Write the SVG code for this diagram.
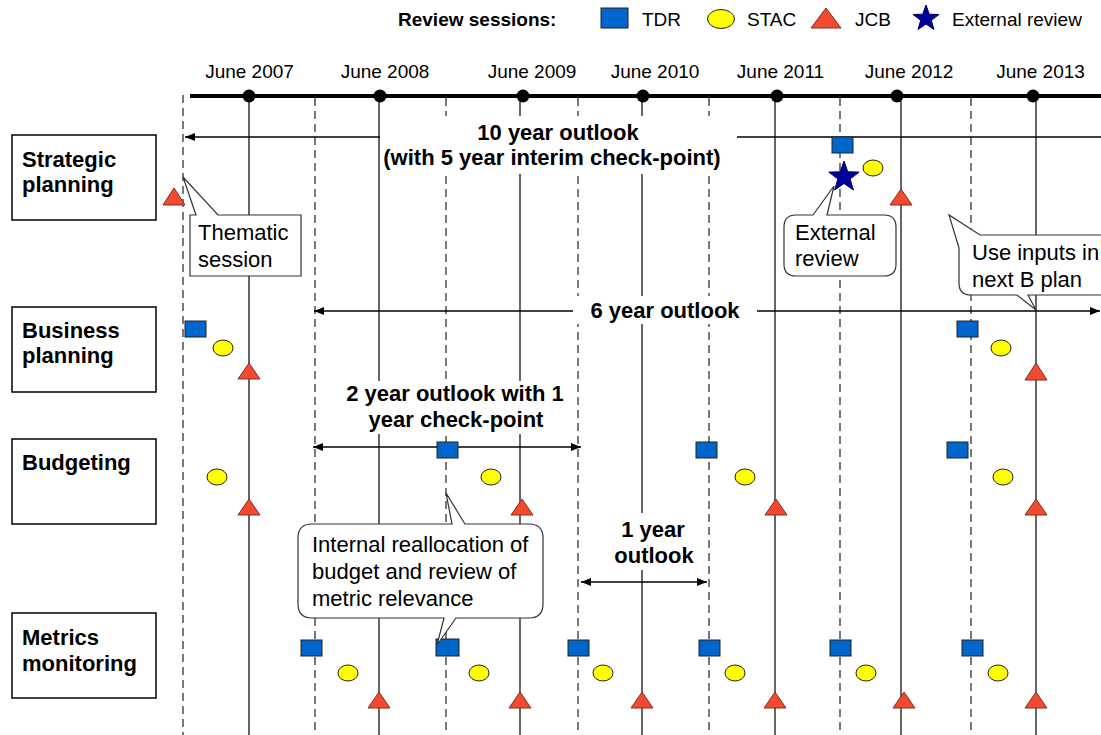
<svg xmlns="http://www.w3.org/2000/svg" width="1101" height="735" viewBox="0 0 1101 735">
  <style>
    .lbl { font-family: "Liberation Sans", Arial, sans-serif; font-size: 22px; font-weight: bold; fill: #000; }
    .mon { font-family: "Liberation Sans", Arial, sans-serif; font-size: 19px; fill: #000; text-anchor: middle; }
    .leg { font-family: "Liberation Sans", Arial, sans-serif; font-size: 19px; fill: #000; }
    .note { font-family: "Liberation Sans", Arial, sans-serif; font-size: 22px; fill: #000; }
    .out { font-family: "Liberation Sans", Arial, sans-serif; font-size: 22px; font-weight: bold; fill: #000; text-anchor: middle; }
    .box { fill: #fff; stroke: #000; stroke-width: 1.5; }
    .call { fill: #fff; stroke: #333; stroke-width: 1.2; }
    .solid { stroke: #000; stroke-width: 1.2; }
    .dash { stroke: #222; stroke-width: 1.2; stroke-dasharray: 8 5; }
    .span { stroke: #000; stroke-width: 1.5; fill: none; }
    .tdr { fill: #0066CC; stroke: #222; stroke-width: 1; }
    .stac { fill: #FFFF00; stroke: #222; stroke-width: 1; }
    .jcb { fill: #F04B30; stroke: #8a2a1a; stroke-width: 1; }
    .ext { fill: #000099; stroke: #000066; stroke-width: 1; }
    .mask { fill: #fff; stroke: none; }
  </style>
  <defs>
    <marker id="ah" viewBox="0 0 10 8" refX="10" refY="4" markerWidth="10" markerHeight="8" markerUnits="userSpaceOnUse" orient="auto-start-reverse">
      <path d="M0,0 L10,4 L0,8 Z" fill="#000"/>
    </marker>
  </defs>

  <rect x="0" y="0" width="1101" height="735" fill="#fff"/>

  <!-- legend -->
  <g id="legend">
    <text class="leg" x="398" y="26" font-weight="bold">Review sessions:</text>
    <rect class="tdr" x="601" y="8" width="27" height="20"/>
    <text class="leg" x="642" y="26">TDR</text>
    <ellipse class="stac" cx="721" cy="19" rx="13.5" ry="9.5"/>
    <text class="leg" x="747" y="26">STAC</text>
    <polygon class="jcb" points="826,8 841,28 811,28"/>
    <text class="leg" x="855" y="26">JCB</text>
    <polygon class="ext" points="926,5 929.3,14.2 939,14.5 931.3,20.3 934,29.5 926,24 918,29.5 920.7,20.3 913,14.5 922.7,14.2"/>
    <text class="leg" x="952" y="26">External review</text>
  </g>

  <!-- timeline axis with yearly milestones -->
  <g id="timeline">
    <line x1="190" y1="96" x2="1101" y2="96" stroke="#000" stroke-width="4"/>
    <g fill="#000">
      <circle cx="249" cy="96" r="6.5"/>
      <circle cx="380" cy="96" r="6.5"/>
      <circle cx="523" cy="96" r="6.5"/>
      <circle cx="643" cy="96" r="6.5"/>
      <circle cx="777" cy="96" r="6.5"/>
      <circle cx="897" cy="96" r="6.5"/>
      <circle cx="1033" cy="96" r="6.5"/>
    </g>
    <text class="mon" x="249.5" y="78">June 2007</text>
    <text class="mon" x="385" y="78">June 2008</text>
    <text class="mon" x="532" y="78">June 2009</text>
    <text class="mon" x="655" y="78">June 2010</text>
    <text class="mon" x="780.5" y="78">June 2011</text>
    <text class="mon" x="909" y="78">June 2012</text>
    <text class="mon" x="1040.5" y="78">June 2013</text>
  </g>

  <!-- yearly grid: solid at June, dashed at half-year -->
  <g id="grid">
    <line class="solid" x1="249" y1="96" x2="249" y2="735"/>
    <line class="solid" x1="379" y1="96" x2="379" y2="735"/>
    <line class="solid" x1="520" y1="96" x2="520" y2="735"/>
    <line class="solid" x1="642" y1="96" x2="642" y2="735"/>
    <line class="solid" x1="775" y1="96" x2="775" y2="735"/>
    <line class="solid" x1="901" y1="96" x2="901" y2="735"/>
    <line class="solid" x1="1036" y1="96" x2="1036" y2="735"/>
    <line class="dash" x1="183" y1="95" x2="183" y2="735"/>
    <line class="dash" x1="315" y1="98" x2="315" y2="735"/>
    <line class="dash" x1="446" y1="98" x2="446" y2="735"/>
    <line class="dash" x1="578" y1="98" x2="578" y2="735"/>
    <line class="dash" x1="709" y1="98" x2="709" y2="735"/>
    <line class="dash" x1="840" y1="98" x2="840" y2="735"/>
    <line class="dash" x1="971" y1="98" x2="971" y2="735"/>
  </g>

  <!-- planning horizons -->
  <g id="connectors">
    <line class="span" x1="380" y1="137" x2="185" y2="137" marker-end="url(#ah)"/>
    <line class="span" x1="737" y1="137" x2="1112" y2="137" marker-end="url(#ah)"/>
    <line class="span" x1="314" y1="311" x2="1100" y2="311" marker-start="url(#ah)" marker-end="url(#ah)"/>
    <line class="span" x1="313" y1="447" x2="581" y2="447" marker-start="url(#ah)" marker-end="url(#ah)"/>
    <line class="span" x1="581" y1="582" x2="707" y2="582" marker-start="url(#ah)" marker-end="url(#ah)"/>
  </g>

  <!-- horizon labels -->
  <g id="outlook10">
    <rect class="mask" x="381" y="116" width="356" height="58"/>
    <text class="out" x="558" y="140">10 year outlook</text>
    <text class="out" x="552" y="165">(with 5 year interim check-point)</text>
  </g>
  <g id="outlook6">
    <rect class="mask" x="573" y="296" width="184" height="28"/>
    <text class="out" x="665" y="318">6 year outlook</text>
  </g>
  <g id="outlook2">
    <rect class="mask" x="325" y="381" width="243" height="53"/>
    <text class="out" x="455" y="401">2 year outlook with 1</text>
    <text class="out" x="456" y="427">year check-point</text>
  </g>
  <g id="outlook1">
    <rect class="mask" x="610" y="513" width="90" height="57"/>
    <text class="out" x="653" y="537">1 year</text>
    <text class="out" x="654" y="563">outlook</text>
  </g>

  <!-- process rows -->
  <g id="strategic">
    <rect class="box" x="12" y="135" width="144" height="85"/>
    <text class="lbl" x="22" y="167">Strategic</text>
    <text class="lbl" x="22" y="192">planning</text>
  </g>
  <g id="business">
    <rect class="box" x="12" y="307" width="144" height="85"/>
    <text class="lbl" x="22" y="338">Business</text>
    <text class="lbl" x="22" y="363">planning</text>
  </g>
  <g id="budgeting">
    <rect class="box" x="12" y="439" width="144" height="85"/>
    <text class="lbl" x="22" y="470">Budgeting</text>
  </g>
  <g id="metrics">
    <rect class="box" x="12" y="613" width="144" height="85"/>
    <text class="lbl" x="22" y="645">Metrics</text>
    <text class="lbl" x="22" y="671">monitoring</text>
  </g>

  <!-- review sessions per row -->
  <g id="sessions-strategic">
    <polygon class="jcb" points="174,188 185,205 163,205"/>
    <rect class="tdr" x="832" y="137" width="21" height="16"/>
    <ellipse class="stac" cx="873" cy="168" rx="10" ry="8"/>
    <polygon class="jcb" points="901,189 912,205 890,205"/>
    <polygon class="ext" points="844,161 847.8,171.8 859.2,172.1 850.1,179 853.4,190 844,183.5 834.6,190 837.9,179 828.8,172.1 840.2,171.8"/>
  </g>
  <g id="sessions-business">
    <rect class="tdr" x="185" y="321" width="21" height="16"/>
    <ellipse class="stac" cx="223" cy="348" rx="10" ry="8"/>
    <polygon class="jcb" points="249,363 260,379 238,379"/>
    <rect class="tdr" x="957" y="321" width="21" height="16"/>
    <ellipse class="stac" cx="1001" cy="348" rx="10" ry="8"/>
    <polygon class="jcb" points="1036,363 1047,380 1025,380"/>
  </g>
  <g id="sessions-budgeting">
    <ellipse class="stac" cx="217" cy="477" rx="10" ry="8"/>
    <polygon class="jcb" points="249,499 260,515 238,515"/>
    <rect class="tdr" x="437" y="442" width="21" height="16"/>
    <ellipse class="stac" cx="491" cy="477" rx="10" ry="8"/>
    <polygon class="jcb" points="522,499 533,515 511,515"/>
    <rect class="tdr" x="696" y="442" width="21" height="16"/>
    <ellipse class="stac" cx="745" cy="477" rx="10" ry="8"/>
    <polygon class="jcb" points="776,499 787,515 765,515"/>
    <rect class="tdr" x="947" y="442" width="21" height="16"/>
    <ellipse class="stac" cx="1003" cy="477" rx="10" ry="8"/>
    <polygon class="jcb" points="1036,499 1047,515 1025,515"/>
  </g>
  <g id="sessions-metrics">
    <rect class="tdr" x="301" y="640" width="21" height="16"/>
    <ellipse class="stac" cx="348" cy="673" rx="10" ry="8"/>
    <polygon class="jcb" points="379,692 390,708 368,708"/>
    <rect class="tdr" x="436" y="639" width="23" height="17"/>
    <ellipse class="stac" cx="479" cy="673" rx="10" ry="8"/>
    <polygon class="jcb" points="520,692 531,708 509,708"/>
    <rect class="tdr" x="568" y="640" width="21" height="16"/>
    <ellipse class="stac" cx="603" cy="673" rx="10" ry="8"/>
    <polygon class="jcb" points="642,692 653,708 631,708"/>
    <rect class="tdr" x="699" y="640" width="21" height="16"/>
    <ellipse class="stac" cx="735" cy="673" rx="10" ry="8"/>
    <polygon class="jcb" points="775,692 786,708 764,708"/>
    <rect class="tdr" x="830" y="640" width="21" height="16"/>
    <ellipse class="stac" cx="866" cy="673" rx="10" ry="8"/>
    <polygon class="jcb" points="904,692 915,708 893,708"/>
    <rect class="tdr" x="962" y="640" width="21" height="16"/>
    <ellipse class="stac" cx="998" cy="673" rx="10" ry="8"/>
    <polygon class="jcb" points="1036,692 1047,708 1025,708"/>
  </g>

  <!-- callouts -->
  <g id="callout-thematic">
    <path class="call" d="M190,215 L196,215 L183,177 L218,215 L301,215 L301,276 L190,276 Z"/>
    <text class="note" x="198" y="240">Thematic</text>
    <text class="note" x="198" y="267">session</text>
  </g>
  <g id="callout-external">
    <path class="call" d="M796,215 L813,215 L834,186 L827,215 L884,215 Q896,215 896,227 L896,264 Q896,276 884,276 L796,276 Q784,276 784,264 L784,227 Q784,215 796,215 Z"/>
    <text class="note" x="795" y="240">External</text>
    <text class="note" x="795" y="266">review</text>
  </g>
  <g id="callout-inputs">
    <path class="call" d="M959,248 L949,215 L980,235 L1120,235 L1120,295 L1028,295 L1036,310 L1017,295 L971,295 Q959,295 959,283 Z"/>
    <text class="note" x="972" y="260">Use inputs in</text>
    <text class="note" x="972" y="287">next B plan</text>
  </g>
  <g id="callout-internal">
    <path class="call" d="M312,524 L452,524 L446,493 L465,524 L529,524 Q543,524 543,538 L543,604 Q543,618 529,618 L456,618 L437,645 L444,618 L312,618 Q298,618 298,604 L298,538 Q298,524 312,524 Z"/>
    <text class="note" x="312" y="552">Internal reallocation of</text>
    <text class="note" x="312" y="579">budget and review of</text>
    <text class="note" x="312" y="606">metric relevance</text>
  </g>
</svg>
